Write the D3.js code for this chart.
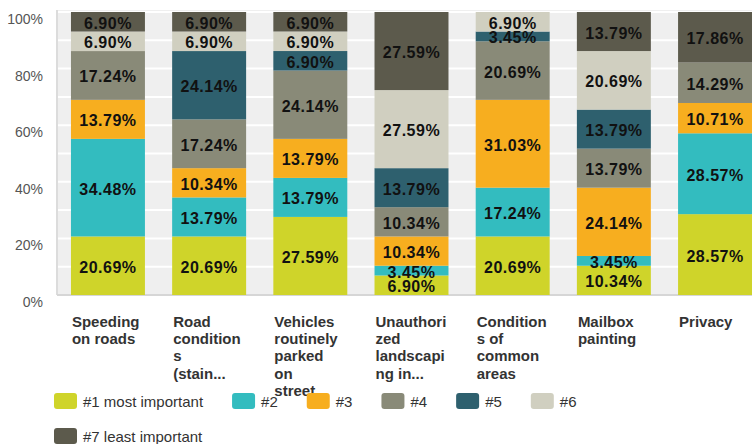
<!DOCTYPE html>
<html lang="en">
<head>
    <meta charset="UTF-8">
    <title>Ranking chart</title>
    <script src="https://d3js.org/d3.v7.min.js"></script>
    <style>
        body {
            margin: 0;
            padding: 0;
            background: #fff;
            font-family: "Liberation Sans", Arial, sans-serif;
        }
        svg { display: block; }
        .seg-label {
            font-size: 16px;
            font-weight: bold;
            letter-spacing: 0.5px;
            fill: #111;
            text-anchor: middle;
        }
        .cat-label {
            font-size: 15px;
            font-weight: bold;
            fill: #333;
        }
        .y-label {
            font-size: 14px;
            fill: #555;
            text-anchor: end;
        }
        .legend-text {
            font-size: 15px;
            fill: #333;
        }
    </style>
</head>
<body>
    <svg width="752" height="444"></svg>
    <script>
        // Categories (as wrapped/truncated on the chart)
        const categoryLines = [
            ["Speeding", "on roads"],
            ["Road", "condition", "s", "(stain..."],
            ["Vehicles", "routinely", "parked", "on", "street"],
            ["Unauthori", "zed", "landscapi", "ng in..."],
            ["Condition", "s of", "common", "areas"],
            ["Mailbox", "painting"],
            ["Privacy"]
        ];

        // Series names and colours
        const seriesNames = ["#1 most important", "#2", "#3", "#4", "#5", "#6", "#7 least important"];
        const seriesColors = ["#cfd42a", "#33bcbf", "#f7ae1f", "#898a78", "#2e606e", "#d0cfc0", "#5c5a4c"];

        // Percent values per rank, one per category
        const rank1 = [20.69, 20.69, 27.59, 6.90, 20.69, 10.34, 28.57];
        const rank2 = [34.48, 13.79, 13.79, 3.45, 17.24, 3.45, 28.57];
        const rank3 = [13.79, 10.34, 13.79, 10.34, 31.03, 24.14, 10.71];
        const rank4 = [17.24, 17.24, 24.14, 10.34, 20.69, 13.79, 14.29];
        const rank5 = [0, 24.14, 6.90, 13.79, 3.45, 13.79, 0];
        const rank6 = [6.90, 6.90, 6.90, 27.59, 6.90, 20.69, 0];
        const rank7 = [6.90, 6.90, 6.90, 27.59, 0, 13.79, 17.86];

        const yTicks = [0, 20, 40, 60, 80, 100];

        const ranks = [rank1, rank2, rank3, rank4, rank5, rank6, rank7];

        // Build table for d3.stack
        const table = categoryLines.map((lines, i) => {
            const row = { idx: i };
            seriesNames.forEach((s, j) => { row[s] = ranks[j][i]; });
            return row;
        });

        const svg = d3.select("svg");

        const plot = { left: 57, top: 12, bottom: 295, right: 766 };

        const x = d3.scaleBand()
            .domain(d3.range(categoryLines.length))
            .range([plot.left, plot.right])
            .paddingInner(0.269)
            .paddingOuter(0.138);

        const y = d3.scaleLinear()
            .domain([0, 100])
            .range([plot.bottom, plot.top]);

        const color = d3.scaleOrdinal().domain(seriesNames).range(seriesColors);

        // Plot background
        svg.append("rect")
            .attr("x", plot.left)
            .attr("y", plot.top - 2)
            .attr("width", 752 - plot.left)
            .attr("height", plot.bottom - plot.top + 2)
            .attr("fill", "#efefef");

        // Gridlines every 10%
        svg.append("g")
            .selectAll("line")
            .data(d3.range(10, 101, 10))
            .join("line")
            .attr("x1", plot.left)
            .attr("x2", 752)
            .attr("y1", d => y(d))
            .attr("y2", d => y(d))
            .attr("stroke", "#fff")
            .attr("stroke-width", 2);

        // Axis lines
        svg.append("line")
            .attr("x1", plot.left).attr("x2", plot.left)
            .attr("y1", plot.top - 2).attr("y2", plot.bottom)
            .attr("stroke", "#dcdcdc").attr("stroke-width", 2);
        svg.append("line")
            .attr("x1", plot.left).attr("x2", 752)
            .attr("y1", plot.bottom).attr("y2", plot.bottom)
            .attr("stroke", "#d6d6d6").attr("stroke-width", 2);

        // Y tick labels
        svg.append("g")
            .selectAll("text")
            .data(yTicks)
            .join("text")
            .attr("class", "y-label")
            .attr("x", 43)
            .attr("y", d => y(d) + 12)
            .text(d => d + "%");

        // Stacked bars
        const stacked = d3.stack().keys(seriesNames)(table);

        const layers = svg.append("g")
            .selectAll("g")
            .data(stacked)
            .join("g")
            .attr("fill", d => color(d.key));

        layers.selectAll("rect")
            .data(d => d.filter(p => p[1] - p[0] > 0))
            .join("rect")
            .attr("x", d => x(d.data.idx))
            .attr("y", d => y(Math.min(d[1], 100)))
            .attr("width", x.bandwidth())
            .attr("height", d => y(d[0]) - y(Math.min(d[1], 100)));

        // Segment labels
        const labels = svg.append("g");
        stacked.forEach(layer => {
            layer.filter(p => p[1] - p[0] > 0).forEach(p => {
                labels.append("text")
                    .attr("class", "seg-label")
                    .attr("x", x(p.data.idx) + x.bandwidth() / 2)
                    .attr("y", (y(p[0]) + y(p[1])) / 2 + 7)
                    .text((p[1] - p[0]).toFixed(2) + "%");
            });
        });

        // Category labels
        const cat = svg.append("g")
            .selectAll("text")
            .data(categoryLines)
            .join("text")
            .attr("class", "cat-label")
            .attr("x", (d, i) => x(i) + 1)
            .attr("y", 327);
        cat.selectAll("tspan")
            .data(d => d)
            .join("tspan")
            .attr("x", function () { return d3.select(this.parentNode).attr("x"); })
            .attr("dy", (d, i) => i === 0 ? 0 : 17.2)
            .text(d => d);

        // Legend
        const legend = svg.append("g");
        let lx = 54, ly = 393;
        seriesNames.forEach((s, i) => {
            const item = legend.append("g");
            item.append("rect")
                .attr("width", 23)
                .attr("height", 16)
                .attr("rx", 3)
                .attr("fill", seriesColors[i]);
            const t = item.append("text")
                .attr("class", "legend-text")
                .attr("x", 29)
                .attr("y", 14)
                .text(s);
            const w = 29 + t.node().getComputedTextLength() + 29;
            if (lx + w > 720 && lx > 54) {
                lx = 54;
                ly += 35;
            }
            item.attr("transform", `translate(${lx},${ly})`);
            lx += w;
        });
    </script>
</body>
</html>
